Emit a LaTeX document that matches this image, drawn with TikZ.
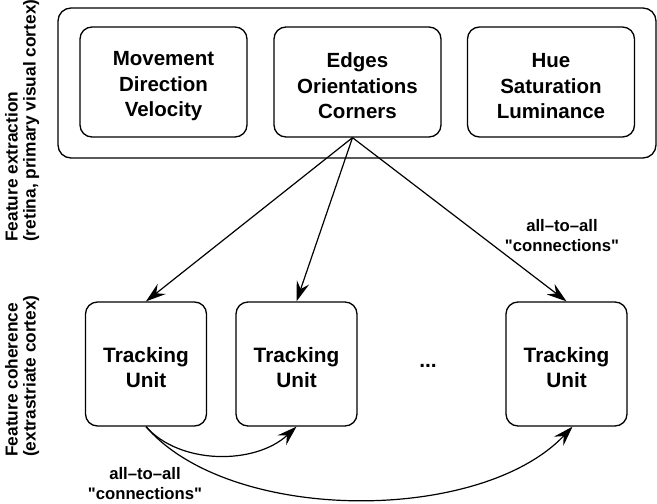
\documentclass[tikz,border=0pt]{standalone}
\usepackage{fontspec}
\newfontfamily\lsans{Liberation Sans}
\usetikzlibrary{arrows.meta}
\newcommand\hx{\rule{0pt}{23pt}}
\begin{document}
\begin{tikzpicture}[x=1pt,y=-1pt,
  outerbox/.style={draw, line width=1.3pt, rounded corners=13pt, minimum width=598pt, minimum height=150pt, inner sep=0pt},
  featbox/.style={draw, line width=1.3pt, rounded corners=12pt, minimum width=167pt, minimum height=110pt, inner sep=0pt, align=center, font=\lsans\fontsize{20.5}{25.5}\selectfont\bfseries},
  unitbox/.style={draw, line width=1.3pt, rounded corners=12pt, minimum width=121pt, minimum height=124pt, inner sep=0pt, align=center, font=\lsans\fontsize{20.8}{25}\selectfont\bfseries},
  lbl/.style={align=center, inner sep=0pt, font=\lsans\fontsize{16.7}{20}\selectfont\bfseries},
  sidelbl/.style={align=left, inner sep=0pt, rotate=90, anchor=north west, font=\lsans\fontsize{17.3}{18}\selectfont\bfseries},
  conn/.style={line width=1.2pt, -{Stealth[length=20pt,width=13pt,inset=7pt]}}
]
\useasboundingbox (0,0) rectangle (657,504);
\node[outerbox] (outer) at (357,83) {};
\node[featbox] (move) at (163.5,82) {\hx Movement\\Direction\\Velocity};
\node[featbox] (edges) at (357.5,82) {\hx Edges\\Orientations\\Corners};
\node[featbox] (hue) at (551,82) {\hx Hue\\Saturation\\Luminance};
\node[unitbox] (u1) at (146,364) {\hx Tracking\\Unit};
\node[unitbox] (u2) at (296.5,364) {\hx Tracking\\Unit};
\node[unitbox] (u3) at (566.5,364) {\hx Tracking\\Unit};
\node[font=\lsans\fontsize{21}{25}\selectfont\bfseries] (dots) at (428,366) {...};
\coordinate (src) at ([xshift=-5pt]edges.south);
\draw[conn] (src) -- (u1.north);
\draw[conn] (src) -- (u2.north);
\draw[conn] (src) -- (u3.north);
\node[lbl] (lblA) at (562,236) {all–to–all\\"connections"};
\coordinate (u3in) at ([xshift=6pt]u3.south);
\draw[conn] (u1.south) .. controls (180,465) and (255,465) .. (u2.south);
\draw[conn] (u1.south) .. controls (230,524) and (480,524) .. (u3in);
\node[lbl] (lblB) at (145,484) {all–to–all\\"connections"};
\node[sidelbl] (side1) at (5,242) {Feature extraction\\(retina, primary visual cortex)};
\node[sidelbl] (side2) at (5,457) {Feature coherence\\(extrastriate cortex)};
\end{tikzpicture}
\end{document}
